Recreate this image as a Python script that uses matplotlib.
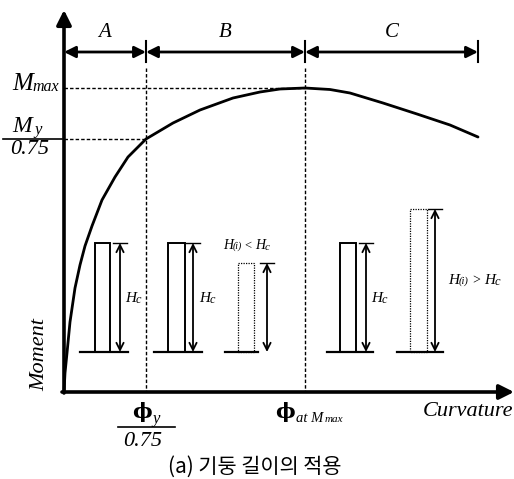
import matplotlib
matplotlib.use("Agg")
import matplotlib.pyplot as plt
from matplotlib.patches import Rectangle

# ---- data (diagram coordinates, y grows downward) ----
curve_x = [64, 65, 67, 70, 75, 80, 85, 92, 102, 115, 128, 146, 173, 200, 233, 260, 280, 305, 330, 350, 383, 417, 450, 478]
curve_y = [392, 373, 353, 322, 288, 265, 246, 226, 200, 177, 157, 139, 123, 110, 98, 92, 89, 88, 89.5, 93, 103, 114, 125, 137]

region_bounds = [64, 146, 305, 478]
region_labels = ["A", "B", "C"]

col_left = [95, 168, 238, 340, 410]
col_width = [15, 17, 16, 16, 17]
col_top = [243, 243, 263, 243, 209]
col_dotted = [False, False, True, False, True]
col_arrow_x = [120, 193, 267, 366, 435]
col_base_from = [80, 154, 225, 327, 397]
col_base_to = [128, 202, 258, 373, 443]
base_y = 352

phi_y_x = 146
phi_max_x = 305
m_max_y = 88
m_y_y = 139

FIG_W, FIG_H = 514, 479
fig = plt.figure(figsize=(FIG_W / 100, FIG_H / 100), dpi=100)
ax = fig.add_axes([0, 0, 1, 1])
ax.set_xlim(0, FIG_W)
ax.set_ylim(FIG_H, 0)
ax.axis("off")

serif = "Liberation Serif"

# axes with arrows
ax.annotate("", xy=(64, 10), xytext=(64, 393),
            arrowprops=dict(arrowstyle="-|>", lw=2.6, color="black",
                            mutation_scale=22, shrinkA=0, shrinkB=0))
ax.annotate("", xy=(514, 392), xytext=(62, 392),
            arrowprops=dict(arrowstyle="-|>", lw=2.6, color="black",
                            mutation_scale=22, shrinkA=0, shrinkB=0))

# dashed reference lines
dash = dict(color="black", lw=1.0, ls=(0, (2.5, 1.5)))
ax.plot([64, phi_max_x], [m_max_y, m_max_y], **dash)
ax.plot([64, phi_y_x], [m_y_y, m_y_y], **dash)
ax.plot([phi_y_x, phi_y_x], [68, 392], **dash)
ax.plot([phi_max_x, phi_max_x], [68, 392], **dash)

# curve
ax.plot(curve_x, curve_y, color="black", lw=2.0, solid_capstyle="round", solid_joinstyle="round")

# region dimension arrows
dim_y = 52
for i in range(3):
    ax.annotate("", xy=(region_bounds[i + 1], dim_y), xytext=(region_bounds[i], dim_y),
                arrowprops=dict(arrowstyle="<|-|>", lw=2.0, color="black",
                                mutation_scale=17, shrinkA=0, shrinkB=0))
    ax.text((region_bounds[i] + region_bounds[i + 1]) / 2, 32, region_labels[i],
            fontsize=15, fontstyle="italic", family=serif, ha="center", va="center")
for xb in region_bounds[1:]:
    ax.plot([xb, xb], [41, 62], color="black", lw=1.5)

# columns
for i in range(len(col_left)):
    ls = (0, (1, 1)) if col_dotted[i] else "-"
    lw = 0.9 if col_dotted[i] else 1.4
    ax.add_patch(Rectangle((col_left[i], col_top[i]), col_width[i], base_y - col_top[i],
                           fill=False, ec="black", lw=lw, ls=ls))
    ax.plot([col_base_from[i], col_base_to[i]], [base_y, base_y], color="black", lw=1.6)
    ax.plot([col_arrow_x[i] - 7, col_arrow_x[i] + 7], [col_top[i], col_top[i]],
            color="black", lw=1.0)
    ax.annotate("", xy=(col_arrow_x[i], col_top[i]), xytext=(col_arrow_x[i], base_y),
                arrowprops=dict(arrowstyle="<->", lw=1.3, color="black",
                                mutation_scale=13, shrinkA=0, shrinkB=0))

# Hc labels
def hc(x, y, size=11):
    ax.text(x, y, "H", fontsize=size, fontstyle="italic", family=serif, ha="left", va="baseline")
    ax.text(x + size * 1.0, y + 1, "c", fontsize=size * 0.8, fontstyle="italic", family=serif,
            ha="left", va="baseline")

hc(125, 302)
hc(199, 302)
hc(371, 302)

# H(i) < Hc
ax.text(223, 249, "H", fontsize=10, fontstyle="italic", family=serif, ha="left", va="baseline")
ax.text(233, 249, "(i)", fontsize=7, fontstyle="italic", family=serif, ha="left", va="baseline")
ax.text(244, 249, "<", fontsize=9, family=serif, ha="left", va="baseline")
ax.text(255, 249, "H", fontsize=10, fontstyle="italic", family=serif, ha="left", va="baseline")
ax.text(265, 250, "c", fontsize=8, fontstyle="italic", family=serif, ha="left", va="baseline")

# H(i) > Hc
ax.text(448, 284, "H", fontsize=11, fontstyle="italic", family=serif, ha="left", va="baseline")
ax.text(459, 284, "(i)", fontsize=7.5, fontstyle="italic", family=serif, ha="left", va="baseline")
ax.text(472, 284, ">", fontsize=10, family=serif, ha="left", va="baseline")
ax.text(484, 284, "H", fontsize=11, fontstyle="italic", family=serif, ha="left", va="baseline")
ax.text(495, 285, "c", fontsize=9, fontstyle="italic", family=serif, ha="left", va="baseline")

# M max label
ax.text(12, 90, "M", fontsize=18, fontstyle="italic", family=serif, ha="left", va="baseline")
ax.text(32, 91, "max", fontsize=11.5, fontstyle="italic", family=serif, ha="left", va="baseline")

# My / 0.75
ax.text(12, 132, "M", fontsize=17, fontstyle="italic", family=serif, ha="left", va="baseline")
ax.text(34, 134, "y", fontsize=12, fontstyle="italic", family=serif, ha="left", va="baseline")
ax.plot([3, 62], [m_y_y, m_y_y], color="black", lw=1.2)
ax.text(30, 150, "0.75", fontsize=16, fontstyle="italic", family=serif, ha="center", va="center")

# Moment
ax.text(40, 355, "Moment", fontsize=16, fontstyle="italic", family=serif, rotation=90,
        ha="center", va="center")
# Curvature
ax.text(513, 411, "Curvature", fontsize=16, fontstyle="italic", family=serif,
        ha="right", va="center")

# phi_y / 0.75
ax.text(142, 418, "\u03d5", fontsize=15, fontweight="bold", family="DejaVu Serif",
        ha="center", va="baseline")
ax.text(152, 423, "y", fontsize=12, fontstyle="italic", family=serif, ha="left", va="baseline")
ax.plot([118, 175], [427, 427], color="black", lw=1.2)
ax.text(143, 441, "0.75", fontsize=16, fontstyle="italic", family=serif, ha="center", va="center")

# phi at Mmax
ax.text(285, 418, "\u03d5", fontsize=15, fontweight="bold", family="DejaVu Serif",
        ha="center", va="baseline")
ax.text(296, 422, "at M", fontsize=10.5, fontstyle="italic", family=serif, ha="left", va="baseline")
ax.text(325, 422, "max", fontsize=8, fontstyle="italic", family=serif, ha="left", va="baseline")

# caption
ax.text(255, 467, "(a) 기둥 길이의 적용", fontsize=15,
        family=["Noto Sans CJK KR", "DejaVu Sans"], ha="center", va="center")

fig.savefig("out.png", dpi=100)
